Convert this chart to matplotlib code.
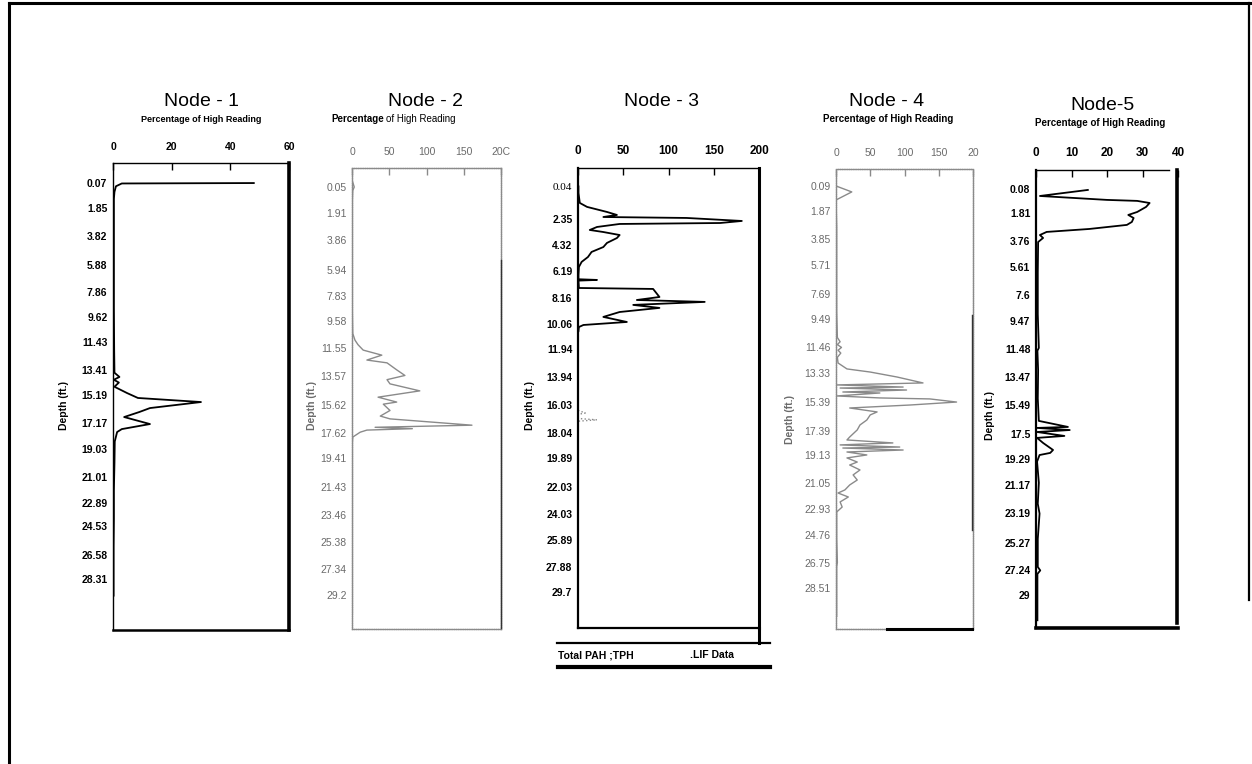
import numpy as np
import matplotlib.pyplot as plt
from matplotlib.lines import Line2D

plt.rcParams['font.family'] = ['Liberation Sans', 'DejaVu Sans']

W, H = 1252, 764

# ---- data (value = % of high reading, depth in ft) ----
n1_depth = [0.07, 0.1, 0.3, 0.7, 1.2, 3, 6, 9, 12, 13.6, 13.9, 14.1, 14.3, 14.6,
            15.05, 15.4, 15.69, 16.12, 16.4, 16.76, 17.26, 17.62, 17.83, 18.5,
            20, 22, 24, 26, 28, 29.5]
n1_value = [48, 3, 1.0, 0.5, 0.3, 0.3, 0.3, 0.3, 0.4, 0.5, 2.2, 0.3, 2.0, 0.5,
            4.8, 8.5, 30, 12.6, 9, 3.8, 12.6, 3, 1.4, 0.6,
            0.5, 0.3, 0.3, 0.2, 0.2, 0.2]
n1_ticks = ['0.07', '1.85', '3.82', '5.88', '7.86', '9.62', '11.43', '13.41',
            '15.19', '17.17', '19.03', '21.01', '22.89', '24.53', '26.58', '28.31']

n2_depth = [-0.3, 0.05, 0.3, 1, 3, 5, 7, 9, 10.5, 10.98, 11.3, 11.69, 12.05, 12.4,
            12.6, 13.1, 13.5, 13.8, 14.1, 14.6, 15.05, 15.4, 15.55, 16.0, 16.4,
            16.6, 17.05, 17.2, 17.3, 17.4, 17.55, 17.9, 18.3, 19, 21, 23, 25, 27,
            29, 30.5]
n2_value = [1, 3, 1, 0.5, 0.5, 0.5, 0.5, 0.5, 1, 4, 8, 15, 40, 20,
            47, 60, 71, 47, 51, 91, 35, 60, 42, 51, 38,
            51, 161, 31, 81, 20, 11, 1, 0.5, 0.5, 0.5, 0.5, 0.5, 0.5,
            0.5, 0.5]
n2_ticks = ['0.05', '1.91', '3.86', '5.94', '7.83', '9.58', '11.55', '13.57',
            '15.62', '17.62', '19.41', '21.43', '23.46', '25.38', '27.34', '29.2']

n3_depth = [0.0, 0.48, 1.21, 1.5, 1.87, 2.09, 2.24, 2.31, 2.53, 2.68, 2.75, 2.97,
            3.19, 3.34, 3.56, 3.78, 4.14, 4.44, 4.8, 5.17, 5.53, 5.9, 6.5, 6.8,
            6.85, 6.9, 7.44, 7.51, 8.1, 8.32, 8.46, 8.68, 8.9, 9.2, 9.56, 9.93,
            10.15, 10.3, 10.6]
n3_value = [0.5, 0.5, 2, 10, 32, 43, 28, 120, 181, 157, 46, 21,
            13, 28, 46, 43, 32, 28, 15, 11, 4, 1, 0.5, 0.5,
            21, 0.5, 1, 83, 90, 65, 140, 61, 90, 46, 28, 54,
            6, 1, 0.5]
n3_lif_depth = [16.4, 16.6, 16.7, 17.0, 17.1, 17.2]
n3_lif_value = [0, 8, 0, 0, 21, 0]
n3_ticks = ['0.04', '2.35', '4.32', '6.19', '8.16', '10.06', '11.94', '13.94',
            '16.03', '18.04', '19.89', '22.03', '24.03', '25.89', '27.88', '29.7']

n4_depth = [-0.5, 0.09, 0.51, 1.08, 3, 6, 9, 10.8, 11.1, 11.3, 11.5, 11.7, 11.9,
            12.2, 12.6, 13.02, 13.24, 13.59, 13.8, 14.01, 14.15, 14.3, 14.37,
            14.51, 14.65, 14.72, 14.93, 15.07, 15.14, 15.36, 15.57, 15.78, 16.06,
            16.27, 16.63, 16.98, 17.33, 17.83, 18.04, 18.25, 18.39, 18.54, 18.61,
            18.75, 18.89, 19.1, 19.31, 19.6, 19.81, 20.16, 20.51, 20.87, 21.22,
            21.57, 21.79, 22.07, 22.42, 22.78, 23.13, 25, 26.7, 27, 30.5]
n4_value = [0, 0, 23, 0, 1, 1, 1, 2, 6, 2, 8, 3, 7,
            2, 3, 16, 50, 89, 108, 127, 1, 98, 6,
            103, 10, 64, 1, 64, 137, 176, 108, 20, 60,
            50, 45, 35, 31, 20, 16, 83, 6, 93, 10,
            98, 16, 45, 16, 31, 20, 35, 25, 31, 20,
            13, 3, 18, 6, 9, 1, 1, 2, 1, 1]
n4_ticks = ['0.09', '1.87', '3.85', '5.71', '7.69', '9.49', '11.46', '13.33',
            '15.39', '17.39', '19.13', '21.05', '22.93', '24.76', '26.75', '28.51']

n5_depth = [0.15, 0.58, 0.86, 0.93, 1.08, 1.36, 1.72, 1.93, 2.15, 2.43, 2.64, 2.93,
            3.14, 3.36, 3.57, 3.86, 6, 9, 11.4, 11.6, 13, 15, 16.6, 17.03, 17.1,
            17.25, 17.39, 17.67, 17.81, 18.17, 18.67, 18.88, 19.03, 19.5, 21,
            22.5, 23.2, 25, 27, 27.25, 27.5, 29.5, 30.8]
n5_value = [14.6, 1.1, 20, 28.5, 32, 31, 28.5, 26, 27.5, 27, 25.6, 15,
            3, 1.1, 2, 0.6, 0.5, 0.5, 0.8, 0.4, 0.6, 0.5, 0.8, 9, 0.3,
            9.5, 0.3, 8, 0.3, 2, 4.8, 4, 1, 0.3, 0.8,
            0.5, 1, 0.5, 0.5, 1.2, 0.4, 0.4, 0.4]
n5_ticks = ['0.08', '1.81', '3.76', '5.61', '7.6', '9.47', '11.48', '13.47',
            '15.49', '17.5', '19.29', '21.17', '23.19', '25.27', '27.24', '29']

GRAY = '#8a8a8a'

fig = plt.figure(figsize=(W / 100, H / 100), dpi=100)


def fx(px):
    return px / W


def fy(py):
    return 1 - py / H


def box(x0, x1, y0, y1):
    return [fx(x0), fy(y1), fx(x1) - fx(x0), fy(y0) - fy(y1)]


def fline(x, y, **kw):
    fig.add_artist(Line2D([fx(v) for v in x], [fy(v) for v in y], **kw))


def panel(rect, depth, value, ticks, xmax, xstep, ylim, xlabels=None,
          color='black', lw=1.3, bold=True, tick_color='black', xsize=7.5):
    ax = fig.add_axes(rect)
    ax.plot(value, depth, color=color, lw=lw)
    ax.set_xlim(0, xmax)
    ax.set_ylim(*ylim)
    xt = np.arange(0, xmax + 1, xstep)
    ax.set_xticks(xt)
    ax.set_xticklabels(xlabels if xlabels else [str(int(v)) for v in xt])
    ax.set_yticks([float(t) for t in ticks])
    ax.set_yticklabels(ticks)
    ax.xaxis.tick_top()
    w = 'bold' if bold else 'normal'
    ax.tick_params(axis='x', direction='in', length=5, width=1, pad=8,
                   labelsize=xsize, colors=tick_color, color=color)
    ax.tick_params(axis='y', length=0, pad=4, labelsize=7.5, colors=tick_color)
    for lab in ax.get_xticklabels() + ax.get_yticklabels():
        lab.set_fontweight(w)
    for s in ax.spines.values():
        s.set_color(color)
        s.set_linewidth(1)
    return ax


# Node 1
ax1 = panel(box(113, 289, 163, 630), n1_depth, n1_value, n1_ticks, 60, 20,
            (31.95, -1.36))
ax1.spines['right'].set_linewidth(2.6)
ax1.spines['bottom'].set_linewidth(1.8)

# Node 2 (faint grey scan)
ax2 = panel(box(352, 501, 168, 629), n2_depth, n2_value, n2_ticks, 200, 50,
            (31.6, -1.31), xlabels=['0', '50', '100', '150', '20C'],
            color=GRAY, lw=1.0, bold=False, tick_color='#6a6a6a')
for s in ax2.spines.values():
    s.set_linestyle((0, (1, 0.6)))
fline([501, 501], [260, 628], color='#333333', lw=1)

# Node 3
ax3 = panel(box(578, 759, 168, 628), n3_depth, n3_value, n3_ticks, 200, 50,
            (32.35, -1.35), xsize=8.5)
ax3.plot(n3_lif_value, n3_lif_depth, color=GRAY, lw=1, ls=':')
ax3.spines['left'].set_linewidth(1.6)
ax3.spines['right'].set_linewidth(2.2)
ax3.spines['bottom'].set_linewidth(1.6)
lab0 = ax3.get_yticklabels()[0]
lab0.set_fontfamily(['Liberation Serif'])
lab0.set_fontweight('normal')
lab0.set_fontsize(8)

# Node 4 (faint grey scan)
ax4 = panel(box(836, 973, 169, 629), n4_depth, n4_value, n4_ticks, 200, 50,
            (31.4, -1.11), xlabels=['0', '50', '100', '150', '20'],
            color=GRAY, lw=1.0, bold=False, tick_color='#6a6a6a')
for s in ax4.spines.values():
    s.set_linestyle((0, (1, 0.6)))
fline([887, 972], [629, 629], color='black', lw=2.2)
fline([972, 972], [315, 530], color='#333333', lw=1)

# Node 5
ax5 = panel(box(1036, 1178, 170, 628), n5_depth, n5_value, n5_ticks, 40, 10,
            (31.35, -1.27), xsize=8.5)
ax5.spines['right'].set_visible(False)
ax5.spines['top'].set_bounds(0, 37.5)
ax5.spines['left'].set_linewidth(1.6)
ax5.spines['bottom'].set_linewidth(2.6)
fline([1177, 1177], [170, 623], color='black', lw=2.6)

# titles and subtitles
title_kw = dict(ha='center', va='center', fontsize=14)
sub_kw = dict(ha='center', va='center', fontsize=6.5, fontweight='bold')
fig.text(fx(201), fy(101), 'Node - 1', **title_kw)
fig.text(fx(201), fy(119), 'Percentage of High Reading', **sub_kw)
fig.text(fx(425), fy(101), 'Node - 2', **title_kw)
fig.text(fx(384), fy(119), 'Percentage', ha='right', va='center', fontsize=7,
         fontweight='bold')
fig.text(fx(386), fy(119), 'of High Reading', ha='left', va='center', fontsize=7)
fig.text(fx(662), fy(101), 'Node - 3', **title_kw)
fig.text(fx(887), fy(101), 'Node - 4', **title_kw)
fig.text(fx(888), fy(119), 'Percentage of High Reading', ha='center', va='center',
         fontsize=7, fontweight='bold')
fig.text(fx(1103), fy(105), 'Node-5', **title_kw)
fig.text(fx(1100), fy(123), 'Percentage of High Reading', ha='center', va='center',
         fontsize=7, fontweight='bold')

# depth labels
for x, y, c in [(64, 405, 'black'), (312, 405, '#6a6a6a'), (530, 405, 'black'),
                (790, 420, '#6a6a6a'), (990, 415, 'black')]:
    fig.text(fx(x), fy(y), 'Depth (ft.)', rotation=90, ha='center', va='center',
             fontsize=7.5, fontweight='bold', color=c)

# legend strip under Node 3
fline([759, 759], [628, 643], color='black', lw=2.2)
fline([557, 770], [643, 643], color='black', lw=1.6)
fig.text(fx(558), fy(655), 'Total PAH ;TPH', ha='left', va='center', fontsize=7.5,
         fontweight='bold')
fig.text(fx(690), fy(655), '.LIF Data', ha='left', va='center', fontsize=7.5,
         fontweight='bold')
fline([558, 770], [667, 667], color='black', lw=3)

# page frame
fline([9, 1250], [3, 3], color='black', lw=2.2)
fline([9, 9], [3, 764], color='black', lw=2.2)
fline([1249, 1249], [3, 600], color='black', lw=1.6)

fig.savefig('out.png', dpi=100)
